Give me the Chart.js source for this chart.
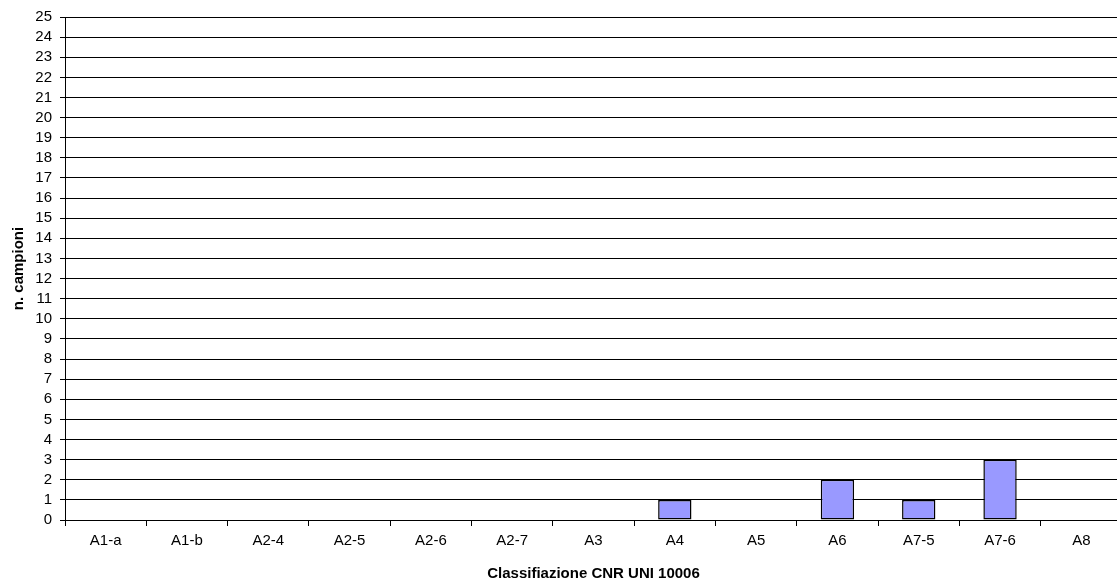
<!DOCTYPE html>
<html><head><meta charset="utf-8">
<script src="https://cdn.jsdelivr.net/npm/chart.js@4/dist/chart.umd.min.js"></script>
<style>html,body{margin:0;padding:0;background:#fff}#wrap{width:1117px;height:585px}</style>
</head><body><div id="wrap"><canvas id="c" width="1117" height="585"></canvas></div>
<script>
const categories = ["A1-a","A1-b","A2-4","A2-5","A2-6","A2-7","A3","A4","A5","A6","A7-5","A7-6","A8"];
const campioni = [0,0,0,0,0,0,0,1,0,2,1,3,0];
const yMin = 0, yMax = 25, yStep = 1;
const xTitle = "Classifiazione CNR UNI 10006";
const yTitle = "n. campioni";

const fam = "'Liberation Sans', Arial, sans-serif";
const font = {family: fam, size: 15};
const extendRight = {
  id: 'extendRight',
  afterLayout(chart) {
    const extra = 5;
    chart.chartArea.right += extra;
    chart.chartArea.width += extra;
    const xs = chart.scales.x;
    xs.right += extra;
    xs.width += extra;
    xs.configure();
  }
};
new Chart(document.getElementById('c'), {
  type: 'bar',
  data: {labels: categories, datasets: [{data: campioni, backgroundColor: '#9999ff', borderColor: '#000000', borderWidth: 1.5, borderSkipped: false, barPercentage: 0.41, categoryPercentage: 1}]},
  options: {
    responsive: false, animation: false, devicePixelRatio: 1,
    layout: {padding: {top: 17, right: 0, left: 0, bottom: 0}},
    plugins: {legend: {display: false}, tooltip: {enabled: false}},
    scales: {
      x: {
        grid: {offset: true, drawOnChartArea: false, color: '#000', tickLength: 6},
        border: {color: '#000', width: 1},
        ticks: {color: '#000', font: font, padding: 6},
        title: {display: true, text: xTitle, color: '#000', font: {family: fam, size: 15, weight: 'bold'}, padding: {top: 0, bottom: 2}},
        afterFit: s => { s.height = 65; }
      },
      y: {
        min: yMin, max: yMax,
        grid: {color: '#000', tickLength: 5, lineWidth: 1},
        border: {color: '#000', width: 1},
        ticks: {stepSize: yStep, color: '#000', font: font, padding: 8, autoSkip: false},
        title: {display: true, text: yTitle, color: '#000', font: {family: fam, size: 15, weight: 'bold'}, padding: {top: 10, bottom: 0}},
        afterFit: s => { s.width = 65; }
      }
    }
  },
  plugins: [extendRight]
});
</script></body></html>
